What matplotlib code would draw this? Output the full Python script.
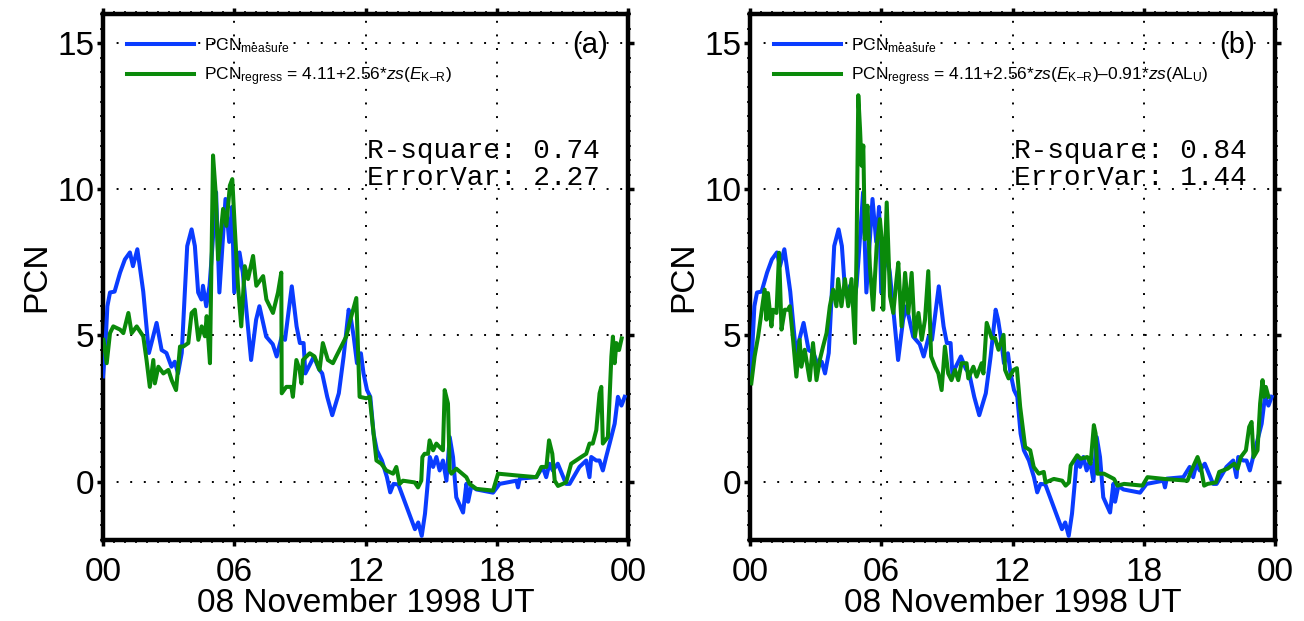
import matplotlib
matplotlib.use("Agg")
import matplotlib.pyplot as plt
from matplotlib.ticker import MultipleLocator, FixedLocator

plt.rcParams['font.family'] = ['Liberation Sans', 'DejaVu Sans']
plt.rcParams['mathtext.fontset'] = 'custom'
plt.rcParams['mathtext.rm'] = 'Liberation Sans'
plt.rcParams['mathtext.it'] = 'Liberation Sans:italic'
plt.rcParams['mathtext.bf'] = 'Liberation Sans:bold'

# ---------------- data ----------------
meas_hours = [0.0, 0.1, 0.2, 0.32, 0.53, 0.78, 1.0, 1.23, 1.37, 1.57, 1.68, 1.84, 2.1, 2.45, 2.68,
              2.9, 3.13, 3.28, 3.43, 3.6, 3.74, 3.85, 4.05, 4.2, 4.35, 4.5, 4.57, 4.72, 4.87,
              4.95, 5.17, 5.32, 5.6, 5.77, 5.9, 6.0, 6.24, 6.39, 6.77, 7.0, 7.15, 7.46, 7.76,
              7.94, 8.17, 8.32, 8.63, 8.85, 9.0, 9.17, 9.25, 9.49, 9.64, 9.87, 10.02, 10.25,
              10.48, 10.78, 11.0, 11.23, 11.34, 11.46, 11.61, 11.79, 11.91, 12.07, 12.22,
              12.37, 12.52, 12.75, 12.98, 13.13, 13.28, 13.5, 13.66, 14.26, 14.41, 14.57,
              14.72, 14.87, 14.94, 15.09, 15.24, 15.39, 15.54, 15.7, 15.85, 16.0, 16.15,
              16.46, 16.61, 16.69, 16.84, 17.07, 17.83, 18.13, 18.9, 18.97, 19.05, 19.81,
              20.1, 20.26, 20.41, 20.56, 20.79, 21.17, 21.33, 21.78, 22.09, 22.24, 22.32,
              22.55, 22.7, 22.85, 23.0, 23.16, 23.39, 23.54, 23.7, 23.85]
meas_vals = [3.6, 4.5, 6.0, 6.47, 6.5, 7.15, 7.6, 7.84, 7.37, 7.95, 7.37, 6.5, 4.4, 5.43, 4.5,
             4.4, 3.93, 4.1, 3.7, 4.4, 6.47, 8.06, 8.63, 8.06, 6.47, 6.23, 6.7, 6.0, 6.7,
             7.5, 9.9, 6.47, 9.67, 8.2, 9.4, 6.47, 7.84, 7.15, 4.16, 5.54, 6.0, 4.96, 4.7,
             4.28, 4.96, 4.85, 6.68, 5.31, 4.74, 4.74, 3.7, 4.05, 4.28, 3.85, 3.7, 2.9,
             2.27, 3.02, 4.28, 5.88, 5.54, 4.96, 4.05, 4.39, 3.7, 3.13, 2.9,
             1.64, 1.07, 0.72, 0.15, -0.37, -0.08, -0.1, -0.42, -1.63, -1.4, -1.86,
             -1.1, 0.15, 0.84, 0.5, 0.84, 0.38, 0.72, 0.03, 1.52, 0.84, -0.54,
             -1.06, -0.08, -0.69, -0.15, -0.27, -0.38, -0.08, 0.03, -0.2, 0.1, 0.15,
             0.5, 0.15, 0.61, 0.38, 0.61, -0.08, -0.08, 0.5, 0.72, 0.15, 0.84,
             0.72, 0.72, 0.38, 0.84, 1.3, 1.98, 2.9, 2.6, 2.9]

reg_a_hours = [0.02, 0.17, 0.32, 0.47, 0.78, 0.93, 1.16, 1.31, 1.54, 1.84, 1.99, 2.14, 2.3, 2.37,
               2.53, 2.76, 2.99, 3.14, 3.34, 3.52, 3.67, 3.9, 4.05, 4.2, 4.36, 4.51, 4.66, 4.74,
               4.89, 4.96, 5.03, 5.15, 5.26, 5.49, 5.64, 5.8, 5.91, 6.02, 6.17, 6.32, 6.48,
               6.63, 6.86, 7.01, 7.32, 7.47, 7.77, 8.0, 8.15, 8.17, 8.38, 8.61, 8.68, 8.84,
               8.99, 9.07, 9.14, 9.45, 9.67, 9.9, 10.05, 10.28, 10.51, 10.66, 11.12, 11.27,
               11.58, 11.73, 12.04, 12.19, 12.5, 12.72, 12.95, 13.26, 13.41, 13.56, 13.71,
               14.25, 14.4, 14.55, 14.6, 14.7, 14.86, 14.93, 15.09, 15.24, 15.39, 15.54,
               15.62, 15.77, 15.85, 15.93, 16.15, 16.61, 16.76, 17.07, 17.83, 18.06, 18.9,
               19.81, 20.04, 20.27, 20.39, 20.54, 20.65, 20.8, 21.17, 21.4, 21.86, 22.09,
               22.24, 22.39, 22.55, 22.7, 22.78, 22.85, 23.08, 23.24, 23.31, 23.39, 23.47,
               23.59, 23.71]
reg_a_vals = [4.85, 4.05, 5.08, 5.31, 5.2, 5.08, 5.77, 5.08, 5.31, 4.97, 4.16, 3.24, 4.16, 3.36,
              3.93, 3.7, 3.82, 3.47, 3.13, 4.62, 4.62, 4.74, 5.77, 5.88, 4.85, 5.31, 4.97, 5.66,
              4.05, 7.6, 11.16, 9.9, 7.6, 9.33, 8.75, 10.13, 10.35, 8.75, 6.7, 5.31, 7.37,
              6.93, 7.72, 6.7, 7.03, 6.23, 5.77, 6.47, 7.15, 3.02, 3.24, 3.24, 2.9, 4.16,
              3.82, 3.36, 4.16, 4.39, 4.28, 3.82, 4.74, 4.16, 4.05, 4.28, 4.96, 5.43,
              6.28, 2.9, 2.85, 2.9, 0.72, 0.61, 0.38, 0.27, 0.5, -0.08, 0.03,
              -0.03, -0.2, 0.03, 0.84, 0.95, 0.95, 1.41, 1.07, 1.3, 1.18, 1.07,
              3.13, 2.67, 0.38, 0.27, 0.44, 0.15, -0.08, -0.25, -0.31, 0.27, 0.21,
              0.15, 0.5, 0.5, 1.41, 0.95, 0.03, -0.15, -0.03, 0.61, 0.84, 0.95,
              1.3, 1.3, 1.76, 3.02, 3.24, 1.3, 1.52, 4.28, 4.96, 4.05, 4.74,
              4.5, 4.9]

reg_b_hours = [0.06, 0.21, 0.37, 0.52, 0.67, 0.75, 0.82, 0.98, 1.05, 1.21, 1.33, 1.44, 1.59, 1.74,
               1.82, 1.97, 2.12, 2.27, 2.35, 2.5, 2.63, 2.73, 2.88, 3.04, 3.19, 3.34, 3.5, 3.65,
               3.8, 3.95, 4.03, 4.18, 4.34, 4.49, 4.64, 4.8, 4.87, 4.95, 5.03, 5.1, 5.18, 5.25,
               5.37, 5.48, 5.63, 5.79, 5.94, 6.02, 6.09, 6.25, 6.4, 6.55, 6.7, 6.78, 6.93,
               7.09, 7.24, 7.39, 7.54, 7.7, 7.85, 8.0, 8.15, 8.28, 8.46, 8.61, 8.76, 8.91,
               9.06, 9.21, 9.37, 9.52, 9.67, 9.9, 9.98, 10.21, 10.36, 10.59, 10.67, 10.82,
               11.05, 11.2, 11.36, 11.59, 11.66, 11.82, 12.05, 12.2, 12.35, 12.58, 12.81,
               12.97, 13.2, 13.43, 13.51, 13.89, 14.27, 14.43, 14.58, 14.66, 14.96, 15.11,
               15.42, 15.57, 15.72, 15.8, 15.88, 16.18, 16.64, 16.8, 17.1, 17.94, 18.17,
               18.93, 20.0, 20.15, 20.46, 20.61, 20.76, 20.92, 21.3, 21.45, 21.83, 22.14,
               22.29, 22.44, 22.67, 22.82, 22.93, 23.02, 23.2, 23.32, 23.43, 23.5, 23.58,
               23.7]
reg_b_vals = [3.36, 4.28, 4.96, 5.77, 6.57, 5.54, 6.45, 5.31, 5.88, 5.77, 7.83, 5.2, 5.88, 5.88,
              6.0, 4.85, 3.59, 4.85, 3.93, 4.51, 3.93, 3.47, 4.74, 3.47, 4.16, 4.62, 5.08, 6.0,
              6.57, 6.0, 6.93, 6.0, 6.93, 6.0, 6.93, 4.74, 7.83, 13.22, 12.07, 10.81, 11.5, 8.29,
              9.44, 7.37, 5.88, 8.06, 8.98, 8.29, 5.88, 9.55, 6.34, 5.77, 6.93, 7.49, 5.31,
              7.14, 5.77, 7.14, 4.96, 5.77, 4.85, 5.54, 7.2, 4.28, 3.93, 3.7, 3.13, 4.62,
              3.7, 3.47, 3.82, 3.47, 4.05, 4.05, 3.53, 3.93, 3.59, 4.05, 3.7, 5.43,
              4.91, 4.91, 4.51, 5.02, 3.82, 3.53, 3.82, 3.88, 2.56, 1.18, 1.07,
              0.5, 0.27, 0.33, -0.03, 0.09, 0.03, -0.14, -0.03, 0.55, 0.9, 0.78,
              0.84, 0.61, 1.93, 1.64, 0.27, 0.27, 0.09, -0.14, -0.08, -0.14, 0.15,
              0.09, 0.03, 0.33, 0.84, 0.5, -0.14, -0.08, -0.03, 0.33, 0.44, 0.61,
              0.44, 0.84, 1.07, 1.87, 2.04, 0.84, 1.07, 2.67, 3.47, 2.9, 3.24,
              2.9]

x_tick_pos = [0, 6, 12, 18, 24]
x_tick_labels = ['00', '06', '12', '18', '00']
y_tick_pos = [0, 5, 10, 15]

EKR = r'$\mathit{E}_{\mathrm{K' + '\u2013' + r'R}}$'
panels = [
    dict(reg_h=reg_a_hours, reg_v=reg_a_vals, tag='(a)', r2='0.74', ev='2.27',
         label=r'PCN$_{\mathrm{regress}}$ = 4.11+2.56*$\mathit{zs}$(' + EKR + ')'),
    dict(reg_h=reg_b_hours, reg_v=reg_b_vals, tag='(b)', r2='0.84', ev='1.44',
         label=r'PCN$_{\mathrm{regress}}$ = 4.11+2.56*$\mathit{zs}$(' + EKR + ')'
               + '\u2013' + r'0.91*$\mathit{zs}$(AL$_{\mathrm{U}}$)'),
]

BLUE = '#0a3cff'
GREEN = '#0a8a0a'

fig = plt.figure(figsize=(13.04, 6.21), dpi=100)
lefts = [103 / 1304, 750 / 1304]
W = 525 / 1304
B = 81 / 621
H = 526 / 621

for left, p in zip(lefts, panels):
    ax = fig.add_axes([left, B, W, H])
    ax.plot(meas_hours, meas_vals, color=BLUE, lw=2.9, label=r'PCN$_{\mathrm{measure}}$', zorder=3)
    ax.plot(p['reg_h'], p['reg_v'], color=GREEN, lw=2.9, label=p['label'], zorder=4)
    ax.set_xlim(0, 24)
    ax.set_ylim(-2, 16)
    ax.xaxis.set_major_locator(FixedLocator(x_tick_pos))
    ax.set_xticklabels(x_tick_labels)
    ax.xaxis.set_minor_locator(MultipleLocator(0.5))
    ax.yaxis.set_major_locator(FixedLocator(y_tick_pos))
    ax.yaxis.set_minor_locator(MultipleLocator(0.5))
    ax.tick_params(which='major', direction='out', length=4, width=2.5, labelsize=24,
                   top=True, right=True)
    ax.tick_params(axis='x', which='major', pad=8)
    ax.tick_params(axis='y', which='major', pad=2)
    ax.tick_params(which='minor', direction='out', length=2, width=1.2,
                   top=True, right=True)
    for s in ax.spines.values():
        s.set_linewidth(3.2)
    ax.grid(True, which='major', color='black', linestyle=(0, (1, 6)), linewidth=1.4)
    ax.set_xlabel('08 November 1998 UT', fontsize=24, labelpad=0)
    ax.set_ylabel('PCN', fontsize=24, labelpad=4)
    ax.text(0.962, 0.941, p['tag'], transform=ax.transAxes, ha='right', va='center', fontsize=21)
    ax.text(0.947, 0.726, 'R-square: ' + p['r2'], transform=ax.transAxes, ha='right',
            va='baseline', fontsize=20, family='Liberation Mono')
    ax.text(0.947, 0.675, 'ErrorVar: ' + p['ev'], transform=ax.transAxes, ha='right',
            va='baseline', fontsize=20, family='Liberation Mono')
    ax.legend(loc='upper left', bbox_to_anchor=(0.045, 0.958), frameon=False, fontsize=12.5,
              handlelength=3.9, handletextpad=0.55, labelspacing=0.6, borderpad=0,
              borderaxespad=0)

fig.savefig('out.png', dpi=100)
